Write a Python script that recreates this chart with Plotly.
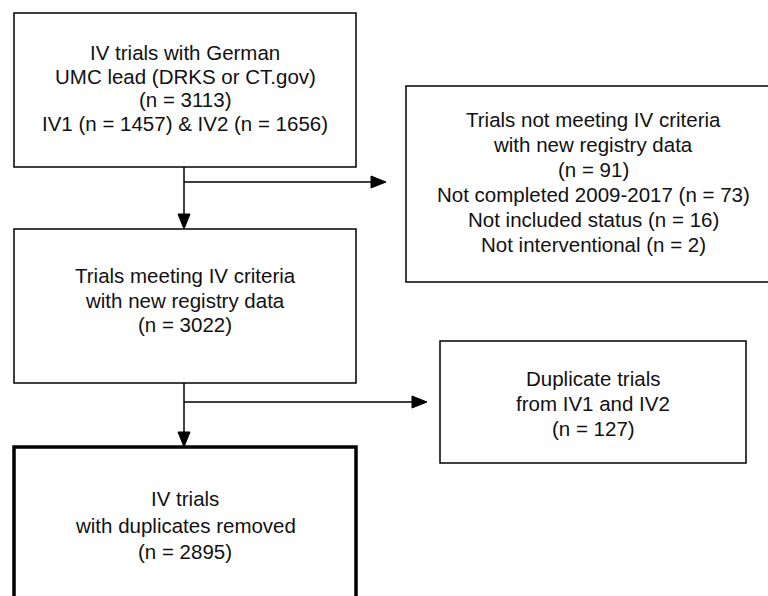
import plotly.graph_objects as go

# ---- content ----
box_ids = ["start", "excluded", "meeting", "duplicates", "final"]
box_lines = [
    ["IV trials with German", "UMC lead (DRKS or CT.gov)", "(n = 3113)", "IV1 (n = 1457) & IV2 (n = 1656)"],
    ["Trials not meeting IV criteria", "with new registry data", "(n = 91)",
     "Not completed 2009-2017 (n = 73)", "Not included status (n = 16)", "Not interventional (n = 2)"],
    ["Trials meeting IV criteria", "with new registry data", "(n = 3022)"],
    ["Duplicate trials", "from IV1 and IV2", "(n = 127)"],
    ["IV trials", "with duplicates removed", "(n = 2895)"],
]

# ---- layout (pixel coordinates, y downward) ----
boxes = {
    "start": (14, 13, 356, 167),
    "excluded": (406, 86, 780, 282),
    "meeting": (14, 229, 356, 383),
    "duplicates": (440, 341, 746, 463),
    "final": (14, 447, 356, 620),
}
text_center_x = {"start": 185, "excluded": 593, "meeting": 185, "duplicates": 593, "final": 185}
text_center_y = {"start": 88, "excluded": 182, "meeting": 300, "duplicates": 403, "final": 525}
line_step = {"start": 23.5, "excluded": 25, "meeting": 24.5, "duplicates": 25, "final": 26.5}
border_w = {"start": 1.5, "excluded": 1.5, "meeting": 1.5, "duplicates": 1.5, "final": 3.5}

W, H = 768, 596
fig = go.Figure()
shapes = []
annotations = []
for bid, lines in zip(box_ids, box_lines):
    x0, y0, x1, y1 = boxes[bid]
    shapes.append(dict(type="rect", xref="x", yref="y", x0=x0, y0=y0, x1=x1, y1=y1,
                       line=dict(color="black", width=border_w[bid]), fillcolor="rgba(0,0,0,0)"))
    cx = text_center_x[bid]
    n = len(lines)
    step = line_step[bid]
    for i, t in enumerate(lines):
        y = text_center_y[bid] + (i - (n - 1) / 2) * step
        annotations.append(dict(x=cx, y=y, xref="x", yref="y", text=t, showarrow=False,
                                font=dict(family="Liberation Sans, Arial, sans-serif", size=20.5, color="#111"),
                                xanchor="center", yanchor="middle"))

def seg(xa, ya, xb, yb):
    shapes.append(dict(type="line", xref="x", yref="y", x0=xa, y0=ya, x1=xb, y1=yb,
                       line=dict(color="black", width=1.5)))

def head(x, y, direction, L=15, hw=6):
    if direction == "down":
        path = f"M {x} {y} L {x-hw} {y-L} L {x+hw} {y-L} Z"
    else:
        path = f"M {x} {y} L {x-L} {y-hw} L {x-L} {y+hw} Z"
    shapes.append(dict(type="path", xref="x", yref="y", path=path,
                       fillcolor="black", line=dict(color="black", width=1)))

# connectors
xc = 184
seg(xc, 167, xc, 216); head(xc, 229, "down")
seg(xc, 182, 374, 182); head(386, 182, "right")
seg(xc, 383, xc, 434); head(xc, 447, "down")
seg(xc, 402, 415, 402); head(427, 402, "right")

fig.update_layout(
    width=W, height=H, margin=dict(l=0, r=0, t=0, b=0),
    paper_bgcolor="white", plot_bgcolor="white",
    xaxis=dict(range=[0, W], visible=False, fixedrange=True),
    yaxis=dict(range=[H, 0], visible=False, fixedrange=True),
    shapes=shapes, annotations=annotations, showlegend=False,
)
fig.write_html("out.html", config={"displayModeBar": False},
               post_script="document.body.style.margin='0';document.body.style.overflow='hidden';")
